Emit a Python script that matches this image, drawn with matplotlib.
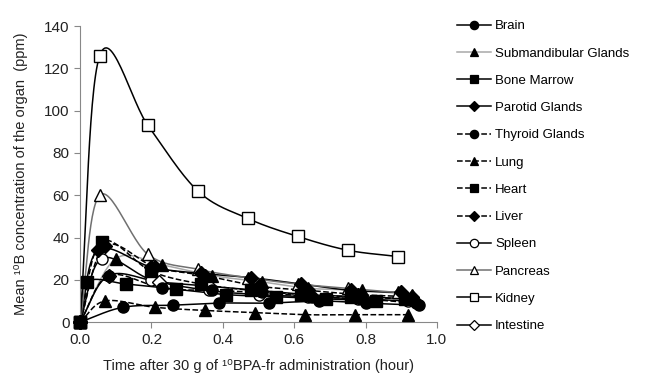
import numpy as np
import matplotlib.pyplot as plt

plt.rcParams['font.family'] = ['Liberation Sans', 'DejaVu Sans']

organs = ['Brain', 'Submandibular Glands', 'Bone Marrow', 'Parotid Glands',
          'Thyroid Glands', 'Lung', 'Heart', 'Liver', 'Spleen', 'Pancreas',
          'Kidney', 'Intestine']

# sampling times (hour) per organ
times = {
    'Brain':                [0, 0.12, 0.26, 0.39, 0.53, 0.67, 0.80, 0.95],
    'Submandibular Glands': [0, 0.10, 0.23, 0.37, 0.51, 0.64, 0.79, 0.93],
    'Bone Marrow':          [0, 0.02, 0.13, 0.27, 0.41, 0.55, 0.69, 0.83],
    'Parotid Glands':       [0, 0.05, 0.20, 0.34, 0.48, 0.62, 0.76, 0.90],
    'Thyroid Glands':       [0, 0.08, 0.23, 0.37, 0.51, 0.65, 0.79, 0.94],
    'Lung':                 [0, 0.07, 0.21, 0.35, 0.49, 0.63, 0.77, 0.92],
    'Heart':                [0, 0.06, 0.20, 0.34, 0.48, 0.62, 0.76, 0.91],
    'Liver':                [0, 0.07, 0.21, 0.35, 0.50, 0.64, 0.78, 0.93],
    'Spleen':               [0, 0.06, 0.20, 0.36, 0.50, 0.64, 0.78, 0.92],
    'Pancreas':             [0, 0.055, 0.19, 0.33, 0.47, 0.61, 0.75, 0.89],
    'Kidney':               [0, 0.055, 0.19, 0.33, 0.47, 0.61, 0.75, 0.89],
    'Intestine':            [0, 0.08, 0.22, 0.36, 0.50, 0.64, 0.78, 0.93],
}

# mean 10B concentration (ppm)
conc = {
    'Brain':                [0, 7, 8, 9, 9, 10, 9, 8],
    'Submandibular Glands': [0, 30, 27, 22, 19, 16, 15, 13],
    'Bone Marrow':          [0, 19, 18, 15.5, 13, 12, 11, 10],
    'Parotid Glands':       [0, 34, 26, 23, 21, 18, 15, 14],
    'Thyroid Glands':       [0, 22, 16, 15, 14, 12, 11, 9],
    'Lung':                 [0, 10, 7, 5.5, 4.5, 3.5, 3.5, 3.5],
    'Heart':                [0, 38, 24, 18, 15, 13, 12, 11],
    'Liver':                [0, 36, 26, 22, 17, 15, 13, 12],
    'Spleen':               [0, 30, 20, 15, 13, 12, 11, 10],
    'Pancreas':             [0, 60, 32, 25, 21, 18, 16, 14],
    'Kidney':               [0, 126, 93, 62, 49, 40.5, 34, 31],
    'Intestine':            [0, 22, 19, 17, 15, 13, 12, 11],
}

styles = {
    'Brain':                dict(marker='o', mfc='black', color='black', ls='-'),
    'Submandibular Glands': dict(marker='^', mfc='black', color='#a8a8a8', ls='-'),
    'Bone Marrow':          dict(marker='s', mfc='black', color='black', ls='-'),
    'Parotid Glands':       dict(marker='D', mfc='black', color='black', ls='-'),
    'Thyroid Glands':       dict(marker='o', mfc='black', color='black', ls='--'),
    'Lung':                 dict(marker='^', mfc='black', color='black', ls='--'),
    'Heart':                dict(marker='s', mfc='black', color='black', ls='--'),
    'Liver':                dict(marker='D', mfc='black', color='black', ls='--'),
    'Spleen':               dict(marker='o', mfc='white', color='black', ls='-'),
    'Pancreas':             dict(marker='^', mfc='white', color='#707070', ls='-'),
    'Kidney':               dict(marker='s', mfc='white', color='black', ls='-'),
    'Intestine':            dict(marker='D', mfc='white', color='black', ls='-'),
}


def smooth(x, y, n=30):
    # catmull-rom spline through the points (like excel smoothed lines)
    x = np.asarray(x, float)
    y = np.asarray(y, float)
    px = np.concatenate([[2 * x[0] - x[1]], x, [2 * x[-1] - x[-2]]])
    py = np.concatenate([[2 * y[0] - y[1]], y, [2 * y[-1] - y[-2]]])
    t = np.linspace(0, 1, n)
    xs, ys = [], []
    for i in range(1, len(px) - 2):
        for p, out in ((px, xs), (py, ys)):
            p0, p1, p2, p3 = p[i - 1], p[i], p[i + 1], p[i + 2]
            out.append(0.5 * (2 * p1 + (-p0 + p2) * t
                              + (2 * p0 - 5 * p1 + 4 * p2 - p3) * t ** 2
                              + (-p0 + 3 * p1 - 3 * p2 + p3) * t ** 3))
    return np.concatenate(xs), np.concatenate(ys)


fig = plt.figure(figsize=(6.62, 3.83), dpi=100)
ax = fig.add_axes([0.121, 0.159, 0.539, 0.773])

handles = []
for name in organs:
    st = styles[name]
    xs, ys = smooth(times[name], conc[name])
    ax.plot(xs, ys, color=st['color'], ls=st['ls'], lw=1.1, zorder=2)
    big = name == 'Kidney'
    # filled markers sit on top of the open ones, squares topmost
    z = 3 if st['mfc'] == 'white' else (5 if st['marker'] == 's' else 4)
    ax.plot(times[name], conc[name], ls='none', marker=st['marker'],
            mfc=st['mfc'], mec='black', mew=1.0, clip_on=False,
            ms=9 if big else (7 if st['marker'] == 'D' else 8), zorder=z)
    h, = ax.plot([], [], color=st['color'], ls=st['ls'], lw=1.1,
                 marker=st['marker'], mfc=st['mfc'], mec='black', mew=0.9,
                 ms=5 if st['marker'] == 'D' else 6)
    handles.append(h)

ax.set_xlim(0, 1.0)
ax.set_ylim(0, 140)
ax.set_xticks(np.arange(0, 1.01, 0.2))
ax.set_yticks(np.arange(0, 141, 20))
ax.xaxis.set_major_formatter(plt.FormatStrFormatter('%.1f'))
for s in ['top', 'right']:
    ax.spines[s].set_visible(False)
for s in ['left', 'bottom']:
    ax.spines[s].set_color('#888888')
ax.tick_params(colors='#888888', labelcolor='#222222', labelsize=11, length=4)

ax.set_xlabel('Time after 30 g of ¹⁰BPA-fr administration (hour)',
              fontsize=10.5, color='#222222', labelpad=9)
ax.set_ylabel('Mean ¹⁰B concentration of the organ  (ppm)',
              fontsize=10.5, color='#222222', labelpad=12)

fig.legend(handles, organs, loc='upper left', bbox_to_anchor=(0.68, 0.965),
           frameon=False, fontsize=9.5, handlelength=2.6, handletextpad=0.3,
           labelspacing=1.14, borderpad=0)

fig.savefig('out.png', dpi=100)
